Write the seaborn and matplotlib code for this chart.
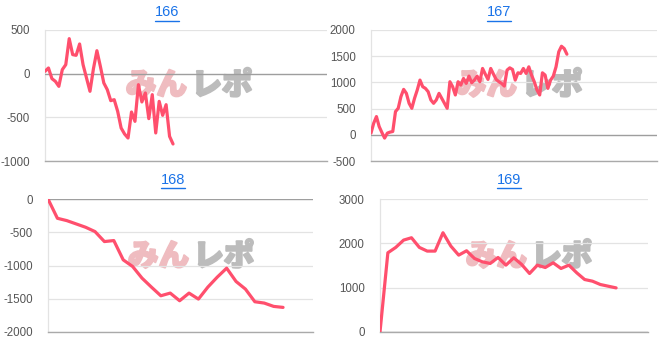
import matplotlib
matplotlib.use("Agg")
import matplotlib.pyplot as plt
import matplotlib.patheffects as pe
from matplotlib.lines import Line2D
import seaborn as sns
import pandas as pd

# ---- data ----
titles = ["166", "167", "168", "169"]

values_166 = [27, 65, -57, -88, -145, 46, 103, 401, 218, 210, 340, 103, -50, -202, 57,
              263, 84, -107, -183, -309, -298, -431, -622, -691, -737, -439, -546, -126,
              -324, -221, -515, -240, -679, -317, -477, -355, -718, -805]

values_167 = [32, 222, 348, 158, 44, -63, 32, 51, 63, 443, 506, 728, 867, 791, 601, 506,
              696, 855, 1044, 918, 886, 823, 665, 601, 665, 791, 696, 601, 506, 1013, 918,
              760, 1013, 949, 1076, 981, 1120, 994, 1044, 1120, 1013, 1266, 1158, 1057,
              1266, 1158, 1057, 1013, 981, 930, 1234, 1278, 1247, 1044, 1183, 1171, 1266,
              1171, 1297, 1139, 1013, 855, 760, 1183, 1139, 886, 1044, 1120, 1297, 1583,
              1690, 1646, 1538]

values_168 = [0, -290, -325, -375, -425, -490, -640, -625, -915, -1015, -1190, -1325,
              -1455, -1415, -1530, -1415, -1505, -1325, -1175, -1040, -1240, -1355, -1545,
              -1565, -1615, -1630]

values_169 = [0, 1787, 1908, 2073, 2126, 1908, 1825, 1825, 2239, 1938, 1734, 1832, 1659,
              1583, 1546, 1681, 1508, 1674, 1523, 1320, 1508, 1455, 1561, 1433, 1508, 1335,
              1184, 1146, 1071, 1033, 995]

y_ticks = [[-1000, -500, 0, 500],
           [-500, 0, 500, 1000, 1500, 2000],
           [-2000, -1500, -1000, -500, 0],
           [0, 1000, 2000, 3000]]
y_tick_labels = [[str(t) for t in ts] for ts in y_ticks]

series = [values_166, values_167, values_168, values_169]

# ---- layout (pixels of a 664x343 canvas) ----
W, H = 664, 343
axes_px = [(45, 30, 327, 161), (371, 30, 657, 161), (48, 199, 313, 332), (380, 199, 648, 332)]
span_frac = [0.454, 0.685, 0.887, 0.881]
title_px = [(167, 12), (499, 12), (173, 180), (509, 180)]
wm_frac = [(0.507, 0.58), (0.514, 0.58), (0.536, 0.57), (0.552, 0.57)]

LINE = "#ff4f6d"
sns.set_theme(style="white")
plt.rcParams["font.family"] = ["Liberation Sans", "Noto Sans CJK JP", "DejaVu Sans"]

fig = plt.figure(figsize=(W / 100, H / 100), dpi=100)
fig.patch.set_facecolor("white")

for i in range(4):
    l, t, r, b = axes_px[i]
    ax = fig.add_axes([l / W, 1 - b / H, (r - l) / W, (b - t) / H])
    vals = series[i]
    df = pd.DataFrame({"x": range(len(vals)), "y": vals})
    sns.lineplot(data=df, x="x", y="y", ax=ax, color=LINE, linewidth=2.3, zorder=5)
    ax.set_xlim(0, (len(vals) - 1) / span_frac[i])
    ticks = y_ticks[i]
    ax.set_ylim(ticks[0], ticks[-1])
    ax.set_yticks(ticks)
    ax.set_yticklabels(y_tick_labels[i])
    ax.set_xticks([])
    ax.set_xlabel("")
    ax.set_ylabel("")
    ax.tick_params(axis="y", length=10, width=0.8, color="#e3e3e3", labelsize=8.3,
                   labelcolor="#555555", pad=1)
    for tv in ticks:
        if tv == 0:
            ax.axhline(0, color="#9e9e9e", linewidth=1.0, zorder=3)
        else:
            ax.axhline(tv, color="#e3e3e3", linewidth=0.9, zorder=1)
    for s in ["top", "right"]:
        ax.spines[s].set_visible(False)
    ax.spines["left"].set_color("#e3e3e3")
    ax.spines["left"].set_linewidth(0.9)
    ax.spines["bottom"].set_color("#aaaaaa")
    ax.spines["bottom"].set_linewidth(1.0)
    ax.set_facecolor("none")

    # watermark
    wx, wy = wm_frac[i]
    ax.text(wx - 0.004, wy, "みん", transform=ax.transAxes, ha="right", va="center",
            fontsize=22, fontweight="heavy", color="#efbcc0", family="Noto Sans CJK JP",
            zorder=0, path_effects=[pe.withStroke(linewidth=1.5, foreground="#efbcc0")])
    ax.text(wx + 0.012, wy, "レポ", transform=ax.transAxes, ha="left", va="center",
            fontsize=22, fontweight="heavy", color="#bcbcbc", family="Noto Sans CJK JP",
            zorder=0, path_effects=[pe.withStroke(linewidth=1.5, foreground="#bcbcbc")])

    tx, ty = title_px[i]
    fig.text(tx / W, 1 - ty / H, titles[i], ha="center", va="center", fontsize=10.5,
             color="#1a73e8")

# underline titles
fig.canvas.draw()
renderer = fig.canvas.get_renderer()
for txt in list(fig.texts):
    bb = txt.get_window_extent(renderer)
    y = (bb.y0 - 1.5) / H
    fig.add_artist(Line2D([bb.x0 / W, bb.x1 / W], [y, y], color="#1a73e8", linewidth=1.0))

fig.savefig("out.png", dpi=100)
